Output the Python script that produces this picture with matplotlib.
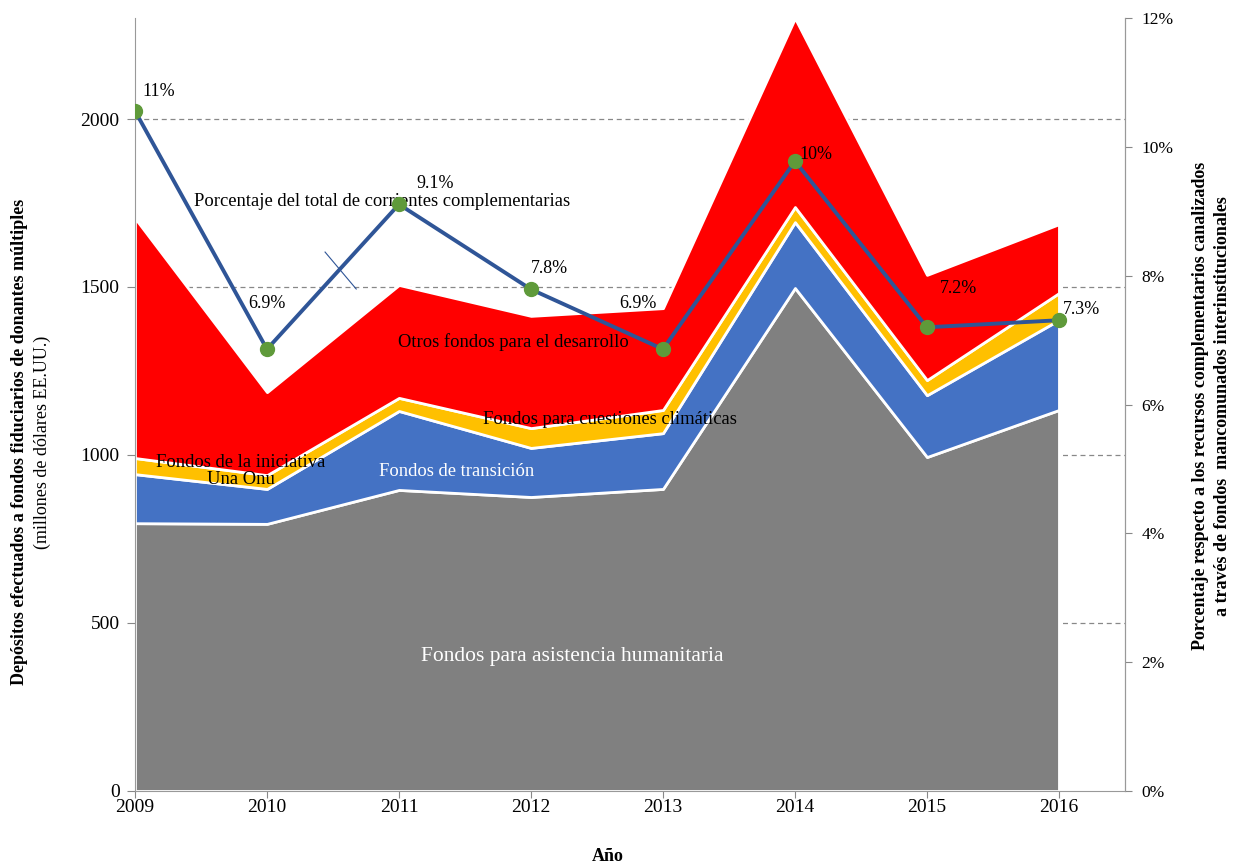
import matplotlib
matplotlib.use("Agg")
import matplotlib.pyplot as plt
from matplotlib.ticker import FuncFormatter

plt.rcParams['font.family'] = ['Liberation Serif', 'DejaVu Serif']

years = [2009, 2010, 2011, 2012, 2013, 2014, 2015, 2016]
humanitaria = [797, 795, 896, 875, 899, 1497, 994, 1134]
transicion = [146, 104, 235, 146, 166, 196, 184, 268]
una_onu = [48, 41, 39, 59, 69, 45, 45, 80]
otros = [714, 247, 336, 334, 303, 562, 313, 205]
porcentaje = [10.56, 6.86, 9.11, 7.79, 6.86, 9.78, 7.2, 7.31]
etiquetas_pct = ["11%", "6.9%", "9.1%", "7.8%", "6.9%", "10%", "7.2%", "7.3%"]

colors = ['#808080', '#4472C4', '#FFC000', '#FF0000']

fig = plt.figure(figsize=(12.35, 8.67), dpi=100)
ax = fig.add_axes([0.1093, 0.0877, 0.9109 - 0.1093, 0.979 - 0.0877])

ax.set_axisbelow(True)
for v in [500, 1000, 1500, 2000]:
    ax.axhline(v, color='#888888', lw=0.9, ls=(0, (4, 3)), zorder=0)

ax.stackplot(years, humanitaria, transicion, una_onu, otros, colors=colors,
             edgecolor='white', linewidth=2, zorder=2)

ax.set_xlim(2009, 2016.5)
ax.set_ylim(0, 2300)
ax.set_xticks(years)
ax.set_xticklabels([str(y) for y in years])
ax.set_yticks([0, 500, 1000, 1500, 2000])
ax.tick_params(axis='y', labelsize=14, color='#888888', length=6, pad=5)
ax.tick_params(axis='x', labelsize=14, color='#888888', length=5, pad=1)
ax.spines['top'].set_visible(False)
for s in ['left', 'bottom', 'right']:
    ax.spines[s].set_color('#999999')

ax2 = ax.twinx()
ax2.set_ylim(0, 12)
ax2.set_yticks([0, 2, 4, 6, 8, 10, 12])
ax2.yaxis.set_major_formatter(FuncFormatter(lambda v, p: f"{int(v)}%"))
ax2.tick_params(axis='y', labelsize=12.5, color='#888888', length=5, pad=7)
for s in ['top', 'left', 'bottom']:
    ax2.spines[s].set_visible(False)
ax2.spines['right'].set_color('#999999')

ax2.plot(years, porcentaje, color='#2F5597', lw=2.8, marker='o',
         markersize=10, markerfacecolor='#5F9A3A', markeredgecolor='#5F9A3A', zorder=5)

offsets = [(5, 14), (0, 33), (26, 15), (13, 15), (-18, 33), (3, 5), (9, 28), (3, 8)]
aligns = ['left', 'center', 'center', 'center', 'center', 'left', 'left', 'left']
for x, y, lab, off, ha in zip(years, porcentaje, etiquetas_pct, offsets, aligns):
    ax2.annotate(lab, (x, y), xytext=off, textcoords='offset points',
                 ha=ha, va='center', fontsize=13, zorder=6)

fs = 13.4
ax.text(2010.87, 1753, "Porcentaje del total de corrientes complementarias",
        ha='center', va='center', fontsize=fs, zorder=6)
ax.plot([2010.44, 2010.676], [1604, 1494], color='#2F5597', lw=0.8, zorder=6)
ax.text(2011.87, 1336, "Otros fondos para el desarrollo", ha='center', va='center',
        fontsize=fs, zorder=6)
ax.text(2012.60, 1107, "Fondos para cuestiones climáticas", ha='center', va='center',
        fontsize=fs, zorder=6)
ax.text(2009.8, 952, "Fondos de la iniciativa\nUna Onu", ha='center', va='center',
        fontsize=fs, linespacing=1.05, zorder=6)
ax.text(2011.44, 952, "Fondos de transición", ha='center', va='center',
        fontsize=fs, color='white', zorder=6)
ax.text(2012.31, 399, "Fondos para asistencia humanitaria", ha='center', va='center',
        fontsize=15.5, color='white', zorder=6)

fig.text(0.016, 0.49, "Depósitos efectuados a fondos fiduciarios de donantes múltiples",
         rotation=90, ha='center', va='center', fontsize=13, fontweight='bold')
fig.text(0.034, 0.49, "(millones de dólares EE.UU.)",
         rotation=90, ha='center', va='center', fontsize=13)
fig.text(0.972, 0.532, "Porcentaje respecto a los recursos complementarios canalizados",
         rotation=90, ha='center', va='center', fontsize=13, fontweight='bold')
fig.text(0.990, 0.532, "a través de fondos  mancomunados interinstitucionales",
         rotation=90, ha='center', va='center', fontsize=13, fontweight='bold')
fig.text(0.492, 0.012, "Año", ha='center', va='center', fontsize=13, fontweight='bold')

fig.savefig("out.png", dpi=100)
